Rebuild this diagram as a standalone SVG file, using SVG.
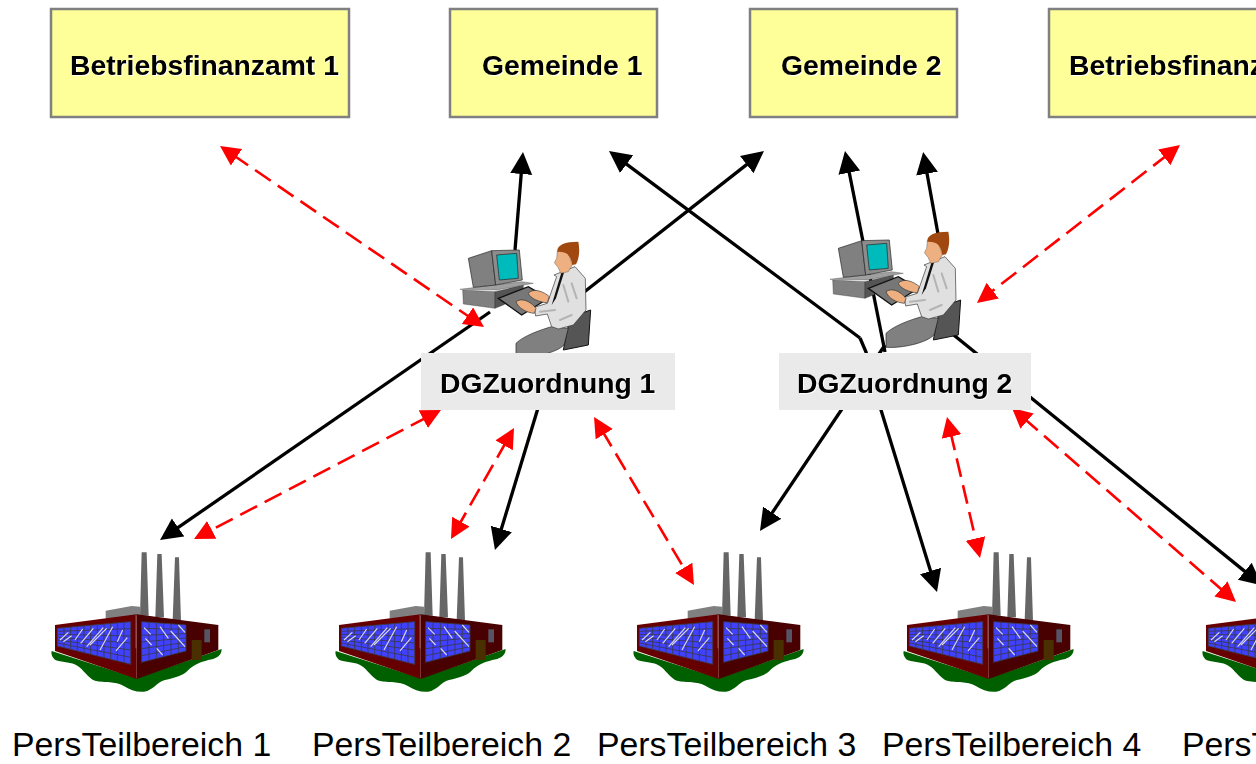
<svg xmlns="http://www.w3.org/2000/svg" width="1256" height="764" viewBox="0 0 1256 764">
<style>
text{font-family:"Liberation Sans",Arial,sans-serif}
.box{fill:#ffff99;stroke:#808080;stroke-width:2.5}
.lab{fill:#eaeaea}
.bt{font-weight:700;font-size:28.300px;fill:#000;filter:drop-shadow(1px 1px 0 #fff)}
.pt{font-size:33.800px;fill:#000}
.bl{fill:none;stroke:#000;stroke-width:3.300;stroke-linejoin:round}
.rd{fill:none;stroke:#f00;stroke-width:2.600;stroke-dasharray:19 8.500}
.thin{fill:none;stroke:#3a3a4a;stroke-width:2.600}
.fold{fill:none;stroke:#b4b4b4;stroke-width:6;stroke-linecap:round}
</style>
<defs>
<marker id="ab" markerUnits="userSpaceOnUse" markerWidth="24" markerHeight="24" refX="6" refY="11" orient="auto"><path d="M0,0L22,11L0,22z" fill="#000"/></marker>
<marker id="ar" markerUnits="userSpaceOnUse" markerWidth="22" markerHeight="22" refX="5" refY="10" orient="auto-start-reverse"><path d="M0,0L20,10L0,20z" fill="#f00"/></marker>
<g id="factory" transform="translate(40 545) scale(.3333)">
<path d="M35,318C32,330 40,342 48,346C70,352 95,352 112,362C130,372 142,398 165,407C195,414 225,408 250,422C270,434 290,442 312,440C340,436 350,412 375,405C405,398 430,392 445,375C460,360 480,352 505,345C525,342 545,335 545,312L290,400Z" fill="#006000"/>
<path d="M305,22L320,22L326,212L300,212ZM352,27L365,27L372,217L346,217ZM405,37L417,37L423,227L398,227Z" fill="#666"/>
<path d="M197,197L275,183L300,185L302,212L197,224Z" fill="#808080"/>
<path d="M45,240L290,208L290,402L45,318Z" fill="#660000"/>
<path d="M290,208L535,240L535,315L290,402Z" fill="#480000"/>
<path d="M52,250L272,230L272,358L52,303Z" fill="#4040ff"/>
<path d="M305,230L438,240L438,318L305,352Z" fill="#4040ff"/>
<path class="thin" d="M52,250L272,230L272,358L52,303ZM72,248V308M92,246V313M112,245V318M132,243V323M152,241V328M172,239V333M192,237V338M212,235V343M232,234V348M252,232V353M52,259L272,251M52,268L272,273M52,276.500L272,294M52,285L272,315M52,294L272,337M305,230L438,240L438,318L305,352ZM327,232V346M349,233V341M371,235V335M393,237V329M415,238V324M305,250L438,253M305,271L438,266M305,291L438,279M305,311L438,292M305,332L438,305"/>
<path d="M60,285L85,262M70,290L95,272M105,285L128,252M122,295L160,250M140,305L190,248M150,300L200,250M180,315L218,245M228,318L262,278M232,290L248,255M312,248L332,268M316,280L335,300M350,310L368,330M360,245L385,280M392,258L435,305M415,240L435,262" stroke="#d8d8f0" stroke-width="3.500" fill="none"/>
<path d="M455,285H485V345H455Z" fill="#4a3000"/>
<path d="M493,253H510V292H493Z" fill="#556"/>
<path d="M288,210V310" stroke="#b08080" stroke-width="2"/>
</g>
<g id="worker" transform="translate(440 230) scale(.3333)">
<path d="M68,180L165,185L165,235L70,222Z" fill="#808080" stroke="#222"/>
<path d="M165,185L250,165L250,190L190,225L165,235Z" fill="#555" stroke="#222"/>
<path d="M60,178L245,155L280,160L170,180Z" fill="#a0a0a0" stroke="#333"/>
<path d="M85,85L155,62L167,165L100,172Z" fill="#808080" stroke="#222" stroke-width="2"/>
<path d="M155,62L238,60L247,150L167,165Z" fill="#8c8c8c" stroke="#222" stroke-width="2"/>
<path d="M170,75L230,70L235,145L178,150Z" fill="#00bbbb" stroke="#222" stroke-width="2"/>
<path d="M390,262L452,240L445,345L370,360Z" fill="#555" stroke="#111" stroke-width="3"/>
<path d="M228,340C250,318 300,300 335,290L385,295L372,345C350,368 280,385 228,382Z" fill="#808080" stroke="#222" stroke-width="2"/>
<path d="M175,205L265,170L325,205L245,255Z" fill="#777" stroke="#111" stroke-width="4"/>
<path d="M342,135L405,110L436,145L438,240L400,285L355,297L335,290L322,252L287,258L283,232L322,220L350,140Z" fill="#e0e0e0" stroke="#333" stroke-width="2"/>
<path class="fold" d="M370,165L385,215M395,160L410,205M300,245L345,240M360,270L395,255"/>
<path d="M365,125L335,225L348,205L372,128Z" fill="#111"/>
<path d="M352,62L385,68L397,105L385,125L362,130L354,112L343,98L350,85Z" fill="#eeb080" stroke="#333"/>
<path d="M352,62C352,45 375,35 415,35C420,60 418,85 408,103L397,105C395,90 388,75 378,70C368,64 360,66 352,65Z" fill="#a04810"/>
<path d="M265,190C280,172 312,185 328,200L322,218C300,218 270,205 265,190ZM228,215C245,203 270,212 288,235L283,250C260,248 235,235 228,215Z" fill="#eeb080" stroke="#333" stroke-width="2"/>
</g>
</defs>
<g id="connectors">
<path class="bl" marker-end="url(#ab)" d="M515,250L521.700,168"/>
<path class="bl" marker-end="url(#ab)" d="M560,311L751.400,160.900"/>
<path class="bl" marker-end="url(#ab)" d="M490,312L173.200,530.900"/>
<path class="bl" marker-end="url(#ab)" d="M860,338L621.800,160.600"/>
<path class="bl" marker-end="url(#ab)" d="M860,338L866,352L881,410L932.300,576.700"/>
<path class="bl" marker-end="url(#ab)" d="M885,345L768.900,517.700"/>
<path class="bl" marker-end="url(#ab)" d="M545,385L499.600,534.700"/>
<path class="bl" marker-end="url(#ab)" d="M885,352L848.100,166.700"/>
<path class="bl" marker-end="url(#ab)" d="M940,245L926,167.700"/>
<path class="bl" marker-end="url(#ab)" d="M950,332L1249.400,575.100"/>
<path class="rd" marker-start="url(#ar)" marker-end="url(#ar)" d="M232.400,154.500L471.600,318.500"/>
<path class="rd" marker-start="url(#ar)" marker-end="url(#ar)" d="M1168.200,154.200L988.800,293.800"/>
<path class="rd" marker-start="url(#ar)" marker-end="url(#ar)" d="M427.700,416.900L207.300,532.100"/>
<path class="rd" marker-start="url(#ar)" marker-end="url(#ar)" d="M506.600,441L458.400,526"/>
<path class="rd" marker-start="url(#ar)" marker-end="url(#ar)" d="M601.700,429.900L686.300,572.100"/>
<path class="rd" marker-start="url(#ar)" marker-end="url(#ar)" d="M950.400,431.600L976.600,543.400"/>
<path class="rd" marker-start="url(#ar)" marker-end="url(#ar)" d="M1023.300,417.800L1224.700,592.200"/>
</g>
<g id="n-bfa1"><rect class="box" x="51" y="9" width="298" height="108"/><text class="bt" x="70" y="74.500">Betriebsfinanzamt 1</text></g>
<g id="n-gem1"><rect class="box" x="450" y="9" width="207" height="108"/><text class="bt" x="482" y="74.500">Gemeinde 1</text></g>
<g id="n-gem2"><rect class="box" x="750" y="9" width="207" height="108"/><text class="bt" x="781" y="74.500">Gemeinde 2</text></g>
<g id="n-bfa2"><rect class="box" x="1049" y="9" width="298" height="108"/><text class="bt" x="1069" y="74.500">Betriebsfinanz</text></g>
<g id="n-dgz1"><use href="#worker"/><rect class="lab" x="421" y="353" width="254" height="57"/><text class="bt" x="440" y="392.500">DGZuordnung 1</text></g>
<g id="n-dgz2"><use href="#worker" transform="translate(370 -10)"/><rect class="lab" x="779" y="353" width="252" height="57"/><text class="bt" x="797" y="392.500">DGZuordnung 2</text></g>
<g id="n-ptb1"><use href="#factory"/><text class="pt" x="12" y="755.500">PersTeilbereich 1</text></g>
<g id="n-ptb2"><use href="#factory" transform="translate(284 0)"/><text class="pt" x="312" y="755.500">PersTeilbereich 2</text></g>
<g id="n-ptb3"><use href="#factory" transform="translate(582 0)"/><text class="pt" x="597" y="755.500">PersTeilbereich 3</text></g>
<g id="n-ptb4"><use href="#factory" transform="translate(852 0)"/><text class="pt" x="882" y="755.500">PersTeilbereich 4</text></g>
<g id="n-ptb5"><use href="#factory" transform="translate(1151 0)"/><text class="pt" x="1182" y="755.500">PersT</text></g>
</svg>
